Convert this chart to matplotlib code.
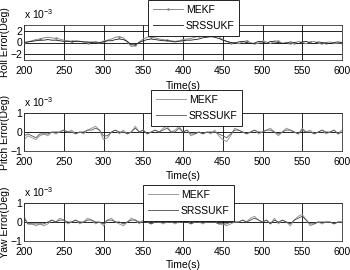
import matplotlib
matplotlib.use("Agg")
import matplotlib.pyplot as plt
import numpy as np

plt.rcParams['font.family'] = ['Liberation Sans', 'DejaVu Sans']
plt.rcParams['mathtext.fontset'] = 'custom'
plt.rcParams['mathtext.rm'] = 'Liberation Sans'

# ---------------- data (x 1e-3 deg), sampled every 5 s from 200 to 600 ----------------
roll_mekf = [0.0, 0.1, 0.3, 0.5, 0.6, 0.8, 0.9, 0.8, 0.7, 0.6, 0.4, 0.3, 0.2, 0.3, 0.2, 0.1,
             0.0, 0.1, 0.0, -0.1, 0.2, 0.4, 0.6, 0.9, 1.0, 0.8, 0.1, -0.7, -0.5, 0.1, 0.6, 0.9,
             1.0, 0.8, 0.6, 0.5, 0.4, 0.3, 0.2, 0.3, 0.5, 0.6, 0.7, 0.9, 1.1, 1.3, 1.4, 1.5,
             1.4, 1.0, 0.5, 0.2, -0.1, 0.0, -0.2, 0.1, 0.3, 0.0, -0.3, -0.1, 0.2, 0.1, -0.2,
             0.3, 0.2, -0.1, 0.0, -0.3, -0.1, 0.2, 0.0, -0.2, 0.1, 0.2, -0.1, -0.3, 0.0, 0.1,
             -0.2, -0.1, 0.0]
roll_srss = [0.0, 0.1, 0.2, 0.3, 0.4, 0.4, 0.5, 0.4, 0.4, 0.3, 0.2, 0.2, 0.1, 0.2, 0.2, 0.1,
             0.1, 0.0, 0.1, 0.0, 0.1, 0.3, 0.3, 0.5, 0.6, 0.5, 0.2, -0.4, -0.4, 0.0, 0.3, 0.5,
             0.6, 0.5, 0.4, 0.3, 0.3, 0.2, 0.1, 0.2, 0.3, 0.4, 0.4, 0.5, 0.6, 0.8, 0.9, 1.0,
             0.9, 0.7, 0.4, 0.2, 0.0, -0.1, 0.1, 0.2, 0.0, -0.2, -0.1, 0.2, 0.1, -0.2, 0.2,
             0.1, 0.0, -0.2, -0.1, 0.1, 0.0, -0.2, 0.1, 0.2, -0.1, -0.2, 0.1, 0.0, -0.1, -0.2,
             0.0, 0.1, 0.0]
pitch_mekf = [-0.4, -0.2, -0.3, -0.4, -0.2, -0.1, -0.2, 0.0, -0.1, 0.0, 0.1, 0.0, 0.1, -0.1,
              0.0, -0.1, 0.1, 0.2, 0.3, 0.1, -0.4, -0.3, 0.0, 0.1, -0.1, 0.1, -0.1, 0.0, 0.3,
              0.0, 0.1, -0.1, 0.0, 0.1, 0.0, 0.2, 0.3, 0.0, 0.1, 0.3, 0.0, 0.1, -0.2, -0.1,
              0.0, -0.1, 0.0, -0.1, 0.1, -0.2, -0.4, -0.5, -0.2, 0.2, 0.1, 0.0, -0.1, 0.0, 0.1,
              -0.1, 0.0, 0.1, 0.2, 0.0, -0.2, 0.0, 0.2, 0.1, 0.0, -0.1, 0.2, 0.0, 0.1, -0.1,
              0.0, 0.1, -0.1, 0.0, 0.1, -0.1, 0.1]
pitch_srss = [-0.2, -0.1, -0.2, -0.3, -0.1, -0.1, -0.1, 0.0, 0.0, 0.0, 0.1, 0.0, 0.0, -0.1,
              0.0, 0.0, 0.1, 0.1, 0.2, 0.1, -0.2, -0.2, 0.0, 0.1, 0.0, 0.0, -0.1, 0.0, 0.2,
              0.0, 0.1, -0.1, 0.0, 0.1, 0.0, 0.1, 0.2, 0.0, 0.0, 0.2, 0.0, 0.1, -0.1, -0.1,
              0.0, -0.1, 0.0, 0.0, 0.0, -0.1, -0.2, -0.3, -0.1, 0.1, 0.1, 0.0, -0.1, 0.0, 0.1,
              0.0, 0.0, 0.1, 0.1, 0.0, -0.1, 0.0, 0.1, 0.1, 0.0, -0.1, 0.1, 0.0, 0.0, -0.1,
              0.0, 0.1, 0.0, 0.0, 0.1, -0.1, 0.0]
yaw_mekf = [0.3, -0.1, -0.1, -0.2, -0.1, -0.2, -0.1, 0.1, 0.0, 0.2, 0.1, -0.1, 0.0, 0.1,
            -0.1, 0.0, 0.2, 0.1, -0.1, 0.0, -0.2, 0.1, 0.2, 0.0, -0.1, -0.2, 0.0, 0.2, 0.1,
            -0.1, 0.1, 0.0, -0.1, 0.0, 0.0, -0.1, 0.0, 0.0, -0.1, 0.0, 0.0, 0.1, -0.1, 0.0,
            0.0, -0.1, 0.0, 0.0, 0.0, -0.1, -0.1, -0.2, -0.1, 0.0, 0.0, 0.1, 0.0, 0.2, 0.3,
            0.1, 0.0, 0.1, -0.1, 0.2, -0.1, 0.1, 0.0, -0.2, 0.1, 0.3, 0.4, 0.1, -0.2, -0.1,
            0.0, -0.1, 0.0, 0.0, -0.1, 0.0, 0.0]
yaw_srss = [0.2, -0.1, -0.1, -0.1, -0.1, -0.1, 0.0, 0.1, 0.0, 0.1, 0.1, 0.0, 0.0, 0.1,
            0.0, 0.0, 0.1, 0.1, 0.0, 0.0, -0.1, 0.1, 0.1, 0.0, 0.0, -0.1, 0.0, 0.1, 0.1,
            0.0, 0.0, 0.0, -0.1, 0.0, 0.0, 0.0, 0.0, 0.0, 0.0, 0.0, 0.0, 0.0, -0.1, 0.0,
            0.0, 0.0, 0.0, 0.0, 0.0, -0.1, -0.1, -0.1, 0.0, 0.0, 0.0, 0.1, 0.0, 0.1, 0.2,
            0.1, 0.0, 0.1, -0.1, 0.1, 0.0, 0.1, 0.0, -0.1, 0.1, 0.2, 0.3, 0.1, -0.1, -0.1,
            0.0, 0.0, 0.0, 0.0, -0.1, 0.0, 0.0]

series_names = ['MEKF', 'SRSSUKF']
ylabels = ['Roll Error(Deg)', 'Pitch Error(Deg)', 'Yaw Error(Deg)']
ylims = [(-3, 3), (-1, 1), (-1, 1)]
yticks = [[-2, 0, 2], [-1, 0, 1], [-1, 0, 1]]
xticks = [200, 250, 300, 350, 400, 450, 500, 550, 600]
xlabel = 'Time(s)'

data = [(roll_mekf, roll_srss), (pitch_mekf, pitch_srss), (yaw_mekf, yaw_srss)]

W, H = 350, 270
fig = plt.figure(figsize=(W / 100, H / 100), dpi=100)
fs = 7.5

# axes boxes in pixels: (left, top, right, bottom)
boxes = [(24, 25, 342, 60), (24, 113, 342, 151), (24, 203, 342, 241)]
legend_ul = [(148, 0), (151, 90), (143, 185)]
xlab_y = [86, 176, 265]

mekf_colors = ['#8a8a8a', '#9a9a9a', '#9a9a9a']
srss_colors = ['#1a1a1a', '#555555', '#4a4a4a']

for i, (l, t, r, b) in enumerate(boxes):
    ax = fig.add_axes([l / W, 1 - b / H, (r - l) / W, (b - t) / H])
    m, s = data[i]
    tm = np.linspace(200, 600, len(m))
    ts = np.linspace(200, 600, len(s))
    if i == 0:
        ax.plot(tm, m, color=mekf_colors[i], lw=0.7, marker='.', ms=1.8, markevery=4,
                label=series_names[0])
    else:
        ax.plot(tm, m, color=mekf_colors[i], lw=0.7, label=series_names[0])
    ax.plot(ts, s, color=srss_colors[i], lw=0.6, label=series_names[1])
    ax.set_xlim(200, 600)
    ax.set_ylim(*ylims[i])
    ax.set_xticks(xticks)
    ax.set_yticks(yticks[i])
    ax.grid(True, color='black', lw=0.6)
    ax.set_axisbelow(True)
    for sp in ax.spines.values():
        sp.set_linewidth(0.6)
        sp.set_color('#333333')
    ax.tick_params(axis='both', labelsize=fs, direction='in', length=0)
    ax.tick_params(axis='x', pad=4)
    ax.tick_params(axis='y', pad=1.5)
    ax.annotate(r'x 10$^{-3}$', xy=(0, 1), xycoords='axes fraction', xytext=(0, 3),
                textcoords='offset points', fontsize=fs, ha='left', va='bottom')
    fig.text(0.5 * (l + r) / W, 1 - xlab_y[i] / H, xlabel, fontsize=fs, ha='center', va='center')
    fig.text(5 / W, 1 - (t + b) / 2 / H, ylabels[i], fontsize=fs, rotation=90,
             ha='center', va='center')
    lx, ly = legend_ul[i]
    leg = ax.legend(loc='upper left', bbox_to_anchor=(lx / W, 1 - ly / H),
                    bbox_transform=fig.transFigure, fontsize=fs, frameon=True,
                    fancybox=False, framealpha=1, edgecolor='black', handlelength=2.9,
                    labelspacing=0.6, borderpad=0.45, handletextpad=0.3, borderaxespad=0)
    leg.get_frame().set_linewidth(0.6)

fig.savefig('out.png', dpi=100)
